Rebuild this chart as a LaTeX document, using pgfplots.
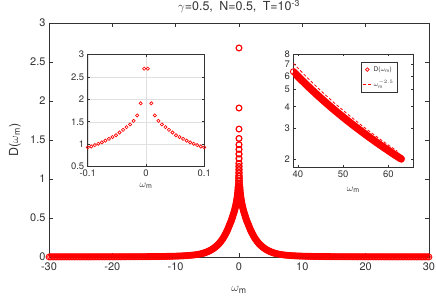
\documentclass[border=0pt]{standalone}
\usepackage{fontspec}
\setmainfont{TeX Gyre Heros}
\usepackage{pgfplots}
\pgfplotsset{compat=1.18}
\usepackage{pgfplotstable}
\definecolor{axgray}{gray}{0.2}
\definecolor{gridgray}{gray}{0.88}

% positive-frequency half of D(omega_m); the curve is mirrored for omega_m<0
\pgfplotstableread{
w D
0.0031 2.68
0.0092 1.91
0.0152 1.64
0.0213 1.52
0.0273 1.44
0.0334 1.38
0.0394 1.32
0.0455 1.26
0.0515 1.20
0.0576 1.16
0.0636 1.12
0.0697 1.08
0.0757 1.04
0.0818 1.01
0.0878 0.98
0.0939 0.95
0.0999 0.93
}\inner

\pgfplotstableread{
w D
0.12 0.90
0.15 0.865
0.2 0.82
0.25 0.785
0.3 0.755
0.35 0.73
0.4 0.705
0.45 0.685
0.5 0.665
0.6 0.63
0.7 0.60
0.8 0.57
0.9 0.545
1.0 0.52
1.1 0.495
1.2 0.47
1.3 0.45
1.4 0.43
1.5 0.41
1.6 0.39
1.7 0.37
1.8 0.35
1.9 0.333
2.0 0.316
2.2 0.285
2.4 0.256
2.6 0.23
2.8 0.207
3.0 0.187
3.2 0.168
3.4 0.152
3.6 0.137
3.8 0.124
4.0 0.112
4.25 0.098
4.5 0.086
4.75 0.076
5.0 0.067
5.25 0.059
5.5 0.052
5.75 0.046
6 0.0400
6.25 0.0355
6.5 0.0318
6.75 0.0285
7 0.0257
7.25 0.0233
7.5 0.0212
7.75 0.0193
8 0.0176
8.25 0.0161
8.5 0.0148
8.75 0.0136
9 0.0125
9.25 0.0116
9.5 0.0107
9.75 0.0100
10 0.0093
10.25 0.0087
10.5 0.0081
10.75 0.0076
11 0.0071
11.25 0.0067
11.5 0.0063
11.75 0.0059
12 0.0055
12.25 0.0052
12.5 0.0049
12.75 0.0046
13 0.0044
13.25 0.0042
13.5 0.0039
13.75 0.0037
14 0.0035
14.25 0.0034
14.5 0.0032
14.75 0.0030
15 0.0029
15.25 0.0028
15.5 0.0026
15.75 0.0025
16 0.0024
16.25 0.0023
16.5 0.0022
16.75 0.0021
17 0.0020
17.25 0.0019
17.5 0.0019
17.75 0.0018
18 0.0017
18.25 0.0017
18.5 0.0016
18.75 0.0015
19 0.0015
19.25 0.0014
19.5 0.0014
19.75 0.0013
20 0.0013
20.25 0.0012
20.5 0.0012
20.75 0.0011
21 0.0011
21.25 0.0011
21.5 0.0010
21.75 0.0010
22 0.00097
22.25 0.00094
22.5 0.00091
22.75 0.00089
23 0.00086
23.25 0.00083
23.5 0.00081
23.75 0.00078
24 0.00076
24.25 0.00074
24.5 0.00072
24.75 0.00070
25 0.00068
25.25 0.00066
25.5 0.00064
25.75 0.00062
26 0.00060
26.25 0.00059
26.5 0.00057
26.75 0.00056
27 0.00054
27.25 0.00053
27.5 0.00051
27.75 0.00050
28 0.00049
28.25 0.00048
28.5 0.00046
28.75 0.00045
29 0.00044
29.25 0.00043
29.5 0.00042
29.75 0.00041
30 0.00040
}\outer

% tail, in units of 1e-5
\pgfplotstableread{
w D
39 6.340
39.5 6.150
40 5.965
40.5 5.790
41 5.620
41.5 5.460
42 5.303
42.5 5.155
43 5.011
43.5 4.874
44 4.740
44.5 4.614
45 4.491
45.5 4.374
46 4.259
46.5 4.150
47 4.044
47.5 3.943
48 3.844
48.5 3.750
49 3.658
49.5 3.570
50 3.484
50.5 3.402
51 3.321
51.5 3.244
52 3.169
52.5 3.097
53 3.027
53.5 2.960
54 2.894
54.5 2.830
55 2.768
55.5 2.709
56 2.651
56.5 2.595
57 2.540
57.5 2.487
58 2.436
58.5 2.386
59 2.338
59.5 2.291
60 2.245
60.5 2.200
61 2.157
61.5 2.115
62 2.074
62.5 2.035
62.83 2.009
}\tailcircles

\pgfplotstableread{
w D
39 7.080
42 5.883
45 4.951
48 4.213
51 3.621
54 3.139
57 2.741
60 2.412
62 2.222
}\taildash

\pgfplotsset{
  mat/.style={
    axis line style={axgray, line width=0.5bp},
    tick style={axgray, line width=0.5bp},
    ticklabel style={text=axgray},
    label style={text=axgray},
    /pgf/number format/assume math mode=true,
    tick align=inside,
    scale only axis,
    anchor=south west,
  },
  band/.style={red, line width=7bp, line cap=round, line join=round, forget plot},
  circ/.style={only marks, mark=o, red, mark size=2.9bp, line width=0.9bp},
}

\begin{document}
\begin{tikzpicture}
\useasboundingbox (-49bp,-43bp) rectangle (387bp,257bp);

% main axis
\begin{axis}[mat,
  at={(0bp,0bp)}, width=380bp, height=234bp,
  xmin=-30, xmax=30, ymin=0, ymax=3,
  xtick={-30,-20,-10,0,10,20,30},
  ytick={0,0.5,1,1.5,2,2.5,3},
  major tick length=4bp,
  ticklabel style={font=\fontsize{11}{13}\selectfont},
  xticklabel style={yshift=-2bp},
  xlabel={$\omega$\textsubscript{m}},
  ylabel={D($\omega$\textsubscript{m})},
  xlabel style={at={(axis description cs:0.5,-0.142)}, anchor=center, font=\fontsize{12.5}{14}\selectfont},
  ylabel style={at={(axis description cs:-0.09,0.5)}, anchor=center, font=\fontsize{12.5}{14}\selectfont},
  title={$\gamma$=0.5,\hspace{3bp} N=0.5,\hspace{3bp} T=10\textsuperscript{-3}},
  title style={at={(axis description cs:0.5,1)}, anchor=base, yshift=6.5bp, font=\fontsize{12.5}{14}\selectfont, text=axgray},
]
\addplot[band] table[x=w, y=D] {\outer};
\addplot[band] table[x expr=-\thisrow{w}, y=D] {\outer};
\addplot[circ] table[x=w, y=D] {\inner};
\addplot[circ] table[x expr=-\thisrow{w}, y=D] {\inner};
\addplot[circ] table[x=w, y=D] {\outer};
\addplot[circ] table[x expr=-\thisrow{w}, y=D] {\outer};
\end{axis}

% inset 1: zoom near omega_m = 0
\begin{axis}[mat,
  at={(38.7bp,90.3bp)}, width=116.6bp, height=112.4bp,
  axis background/.style={fill=white},
  xmin=-0.1, xmax=0.1, ymin=0.5, ymax=3,
  xtick={-0.1,0,0.1},
  ytick={0.5,1,1.5,2,2.5,3},
  grid=major, grid style={gridgray, line width=0.4bp},
  major tick length=2.5bp,
  ticklabel style={font=\fontsize{9.5}{11}\selectfont},
  xlabel={$\omega$\textsubscript{m}},
  xlabel style={at={(axis description cs:0.5,-0.17)}, anchor=center, font=\fontsize{10}{12}\selectfont},
]
\addplot[only marks, mark=o, red, mark size=1.6bp, line width=0.65bp] table[x=w, y=D] {\inner};
\addplot[only marks, mark=o, red, mark size=1.6bp, line width=0.65bp] table[x expr=-\thisrow{w}, y=D] {\inner};
\end{axis}

% inset 2: high-frequency tail
\begin{axis}[mat,
  at={(244.3bp,89.7bp)}, width=120bp, height=113.3bp,
  axis background/.style={fill=white},
  xmin=39, xmax=65.5, ymode=log, ymin=1.8, ymax=8,
  xtick={40,50,60},
  ytick={2,3,4,5,6,7,8}, yticklabels={2,3,4,5,6,7,8},
  major tick length=2.5bp,
  ticklabel style={font=\fontsize{9.5}{11}\selectfont},
  xlabel={$\omega$\textsubscript{m}},
  xlabel style={at={(axis description cs:0.5,-0.2)}, anchor=center, font=\fontsize{10}{12}\selectfont},
  legend style={at={(0.87,0.927)}, anchor=north east, draw=axgray, line width=0.4bp,
    font=\fontsize{6.5}{7.5}\selectfont, inner sep=2pt, row sep=3.5bp, text=axgray},
  legend cell align=left,
  legend image code/.code={\draw[mark repeat=2, mark phase=2, #1] plot coordinates {(0bp,0bp) (4bp,0bp) (8bp,0bp)};},
]
\addplot[red, line width=7.5bp, line cap=round, line join=round, forget plot] table[x=w, y=D] {\tailcircles};
\addplot[only marks, mark=o, red, mark size=2.9bp, line width=0.9bp, legend image post style={mark size=1.8bp, line width=0.7bp}] table[x=w, y=D] {\tailcircles};
\addlegendentry{D($\omega$\textsubscript{m})}
\addplot[red, line width=0.8bp, dash pattern=on 3bp off 2bp] table[x=w, y=D] {\taildash};
\addlegendentry{$\omega_{\mathrm{m}}^{-2.5}$}
\node[anchor=south west, inner sep=1pt, font=\fontsize{7.5}{8}\selectfont, text=axgray] at (rel axis cs:0.02,1) {×10\textsuperscript{-5}};
\end{axis}
\end{tikzpicture}
\end{document}
